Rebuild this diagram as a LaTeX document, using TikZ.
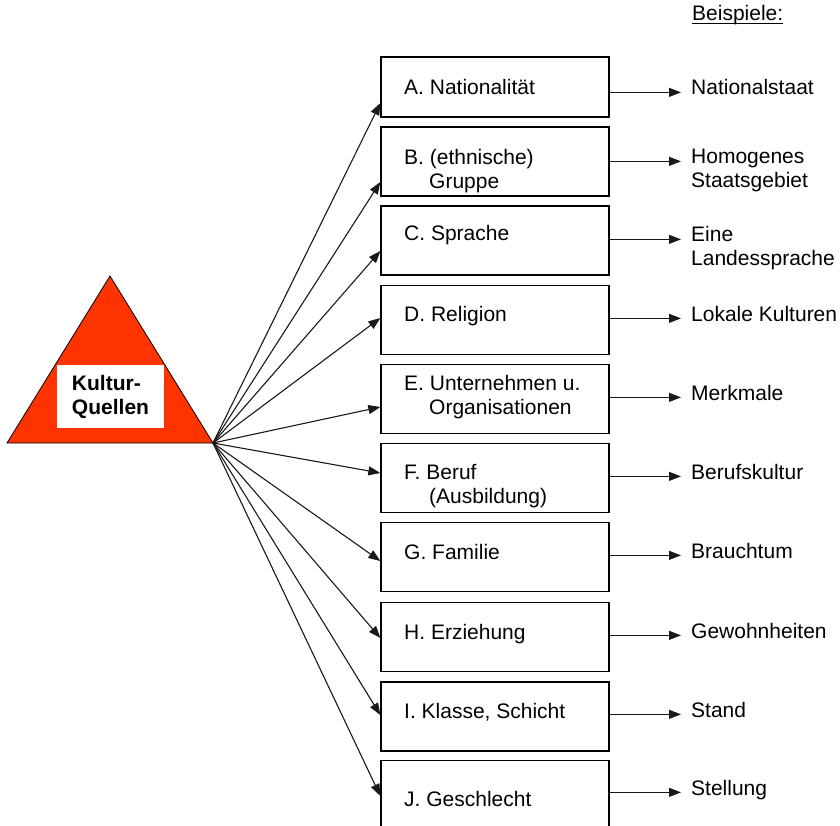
\documentclass[tikz,border=0pt]{standalone}
\usepackage{fontspec}
\setmainfont{Liberation Sans}
\usetikzlibrary{arrows.meta}
\tikzset{>={Triangle[length=12pt,width=9pt]}}
\definecolor{quellrot}{HTML}{FF3300}
\newcommand{\zeilen}[1]{\begin{tabular}[t]{@{}l@{}}#1\end{tabular}}

\begin{document}
\begin{tikzpicture}[x=1pt,y=-1pt,
		font=\fontsize{21}{24}\selectfont,
		kasten/.style={draw,line width=1.3pt,minimum width=228pt,minimum height=69pt,inner sep=0pt},
		eintrag/.style={anchor=base west,inner sep=0pt},
		beispiel/.style={anchor=base west,inner xsep=10pt,inner ysep=0pt},
		pfeil/.style={->,line width=1.1pt,color=black!90}]
			\useasboundingbox (0,0) rectangle (840,826);
			\clip (0,0) rectangle (840,826);
			% Dreieck mit Quelle
			\coordinate (spitze) at (213,443);
			\filldraw[fill=quellrot,draw=black,line width=0.8pt] (7,443) -- (110,276) -- (spitze) -- cycle;
			\node[fill=white,minimum width=107pt,minimum height=63pt,align=left,font=\fontsize{21}{24}\selectfont\bfseries] (quelle) at (110.5,396.5) {Kultur-\\Quellen};
			% Kaesten
			\node[kasten,minimum height=60pt] (kA) at (495,87) {};
			\node[kasten] (kB) at (495,161.5) {};
			\node[kasten] (kC) at (495,240.5) {};
			\node[kasten] (kD) at (495,320) {};
			\node[kasten] (kE) at (495,399) {};
			\node[kasten] (kF) at (495,478) {};
			\node[kasten] (kG) at (495,557) {};
			\node[kasten] (kH) at (495,637) {};
			\node[kasten] (kI) at (495,716.5) {};
			\node[kasten] (kJ) at (495,795) {};
			\node[eintrag] (tA) at (404,95) {A.\ Nationalität};
			\node[eintrag] (tB) at (404,165) {\zeilen{B.\ (ethnische)\\\hspace*{25pt}Gruppe}};
			\node[eintrag] (tC) at (404,241) {C.\ Sprache};
			\node[eintrag] (tD) at (404,321) {D.\ Religion};
			\node[eintrag] (tE) at (404,390) {\zeilen{E.\ Unternehmen u.\\\hspace*{25pt}Organisationen}};
			\node[eintrag] (tF) at (404,479) {\zeilen{F.\ Beruf\\\hspace*{25pt}(Ausbildung)}};
			\node[eintrag] (tG) at (404,559) {G.\ Familie};
			\node[eintrag] (tH) at (404,639) {H.\ Erziehung};
			\node[eintrag] (tI) at (404,718) {I.\ Klasse, Schicht};
			\node[eintrag] (tJ) at (404,806) {J.\ Geschlecht};
			% Beispiele
			\node[anchor=base west,inner sep=0pt] (kopf) at (692,21) {Beispiele:};
			\draw[line width=1pt] ([yshift=-3pt]kopf.base west) -- ([yshift=-3pt]kopf.base east);
			\node[beispiel] (bA) at (681,95) {Nationalstaat};
			\node[beispiel] (bB) at (681,164) {\zeilen{Homogenes\\Staatsgebiet}};
			\node[beispiel] (bC) at (681,242) {\zeilen{Eine\\Landessprache}};
			\node[beispiel] (bD) at (681,321) {Lokale Kulturen};
			\node[beispiel] (bE) at (681,400) {Merkmale};
			\node[beispiel] (bF) at (681,479) {Berufskultur};
			\node[beispiel] (bG) at (681,558) {Brauchtum};
			\node[beispiel] (bH) at (681,638) {Gewohnheiten};
			\node[beispiel] (bI) at (681,717) {Stand};
			\node[beispiel] (bJ) at (681,795) {Stellung};
			% Faecher
			\draw[pfeil] (spitze) -- ([yshift=-16pt]kA.west);
			\draw[pfeil] (spitze) -- ([yshift=-20.5pt]kB.west);
			\draw[pfeil] (spitze) -- ([yshift=-10.5pt]kC.west);
			\draw[pfeil] (spitze) -- ([yshift=2pt]kD.west);
			\draw[pfeil] (spitze) -- ([yshift=-8pt]kE.west);
			\draw[pfeil] (spitze) -- ([yshift=5pt]kF.west);
			\draw[pfeil] (spitze) -- ([yshift=-4pt]kG.west);
			\draw[pfeil] (spitze) -- ([yshift=-1pt]kH.west);
			\draw[pfeil] (spitze) -- ([yshift=1.5pt]kI.west);
			\draw[pfeil] (spitze) -- ([yshift=-1pt]kJ.west);
			% nach rechts
			\draw[pfeil] (kA.east |- bA.mid west) -- (bA.mid west);
			\draw[pfeil] (kB.east |- bB.mid west) -- (bB.mid west);
			\draw[pfeil] (kC.east |- bC.mid west) -- (bC.mid west);
			\draw[pfeil] (kD.east |- bD.mid west) -- (bD.mid west);
			\draw[pfeil] (kE.east |- bE.mid west) -- (bE.mid west);
			\draw[pfeil] (kF.east |- bF.mid west) -- (bF.mid west);
			\draw[pfeil] (kG.east |- bG.mid west) -- (bG.mid west);
			\draw[pfeil] (kH.east |- bH.mid west) -- (bH.mid west);
			\draw[pfeil] (kI.east |- bI.mid west) -- (bI.mid west);
			\draw[pfeil] (kJ.east |- bJ.mid west) -- (bJ.mid west);
		\end{tikzpicture}
\end{document}
